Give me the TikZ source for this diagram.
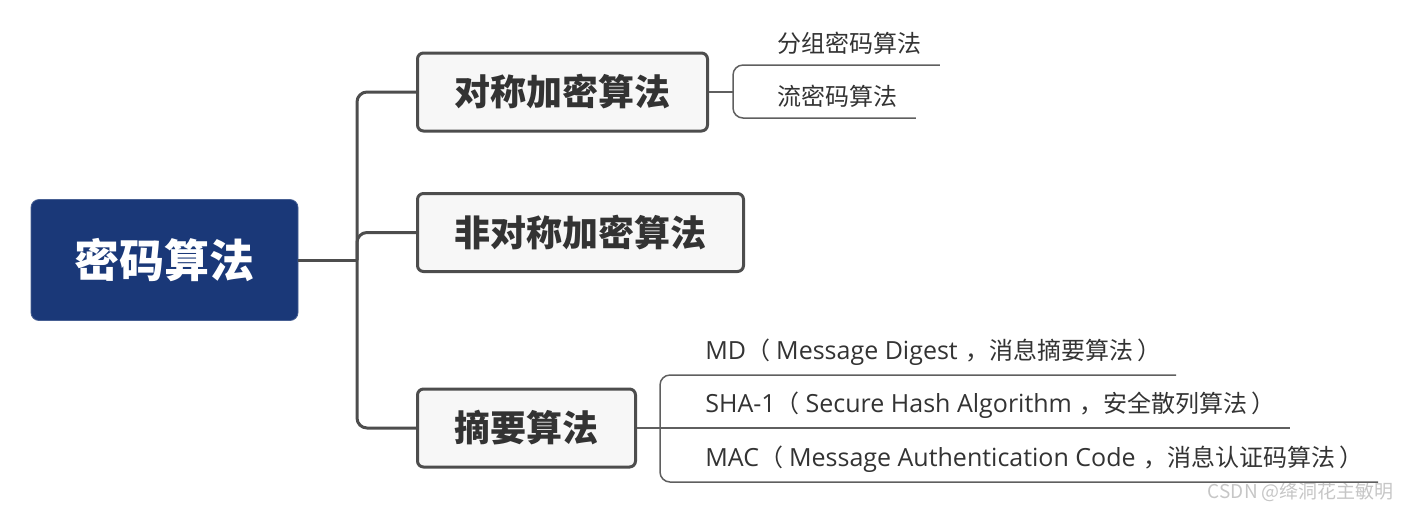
\documentclass[tikz,border=0pt]{standalone}
\usepackage{fontspec}
\setmainfont{Noto Sans CJK SC}
\newfontfamily\latinfont{Open Sans}
\usepackage{tikz}
\usetikzlibrary{calc}
\usepackage{xcolor}
\definecolor{rootblue}{HTML}{1A3878}
\definecolor{boxfill}{HTML}{F7F7F7}
\definecolor{edgegray}{HTML}{4D4D4D}
\definecolor{inkgray}{HTML}{333333}
\newcommand{\lat}[1]{{\latinfont\fontsize{12.5pt}{14pt}\selectfont #1}}
\newcommand{\opn}{（\hspace{3pt}}
\newcommand{\cma}{\hspace{4pt}，}
\newcommand{\cls}{\hspace{2pt}）}

\begin{document}
\begin{tikzpicture}[
    x=0.5pt, y=-0.5pt,
    root/.style={
        fill=rootblue,
        draw=rootblue!80!white,
        rounded corners=4pt,
        align=center,
        minimum width=133.5pt,
        minimum height=60.5pt,
        text=white,
        font=\fontsize{22.5pt}{26pt}\selectfont\bfseries
    },
    branch/.style={
        draw=edgegray,
        fill=boxfill,
        rounded corners=3pt,
        line width=1.5pt,
        anchor=west,
        align=center,
        inner xsep=18.5pt,
        minimum height=39pt,
        text=inkgray,
        font=\fontsize{18pt}{22pt}\selectfont\bfseries
    },
    leaf/.style={
        anchor=base west,
        inner sep=0pt,
        text=inkgray,
        font=\fontsize{12pt}{14pt}\selectfont
    },
    trunk/.style={
        line width=1.5pt,
        draw=edgegray,
        rounded corners=5pt
    },
    twig/.style={
        line width=0.75pt,
        draw=edgegray!90,
        rounded corners=5pt
    }
]
\useasboundingbox (0,0) rectangle (1416,511);

% Nodes
\node (root) [root] at (164.5,260) {密码算法};
\node (sym) [branch] at (416,92) {对称加密算法};
\node (asym) [branch] at (416,232.5) {非对称加密算法};
\node (dig) [branch] at (416,428) {摘要算法};

\node (fen) [leaf] at (777,52) {分组密码算法};
\node (liu) [leaf] at (777,105) {流密码算法};
\node (md) [leaf] at (705,359) {\lat{MD}\opn\lat{Message Digest}\cma 消息摘要算法\cls};
\node (sha) [leaf] at (705,412) {\lat{SHA-1}\opn\lat{Secure Hash Algorithm}\cma 安全散列算法\cls};
\node (mac) [leaf] at (705,466) {\lat{MAC}\opn\lat{Message Authentication Code}\cma 消息认证码算法\cls};

\node (mark) [anchor=east, text=gray!45, font=\fontsize{9.5pt}{11pt}\selectfont] at (1401,492) {CSDN @绛洞花主敏明};

% Paths
\coordinate (hub) at (357,260);
\draw [trunk] (root.east) -- (hub);
\draw [trunk] (sym.west) -| (hub);
\draw [trunk] (asym.west) -| (hub);
\draw [trunk] (dig.west) -| (hub);

\coordinate (k1) at (733,92);
\draw [twig] (sym.east) -- (k1);
\draw [twig] (k1) |- ($(fen.base east)+(18,13)$);
\draw [twig] (k1) |- ($(liu.base east)+(18,13)$);

\coordinate (k3) at (660,428);
\draw [twig] (dig.east) -- (k3);
\draw [twig] (k3) |- ($(md.base east)+(14,16)$);
\draw [twig] (k3) -- ($(sha.base east)+(14,16)$);
\draw [twig] (k3) |- ($(mac.base east)+(14,16)$);

\end{tikzpicture}
\end{document}
